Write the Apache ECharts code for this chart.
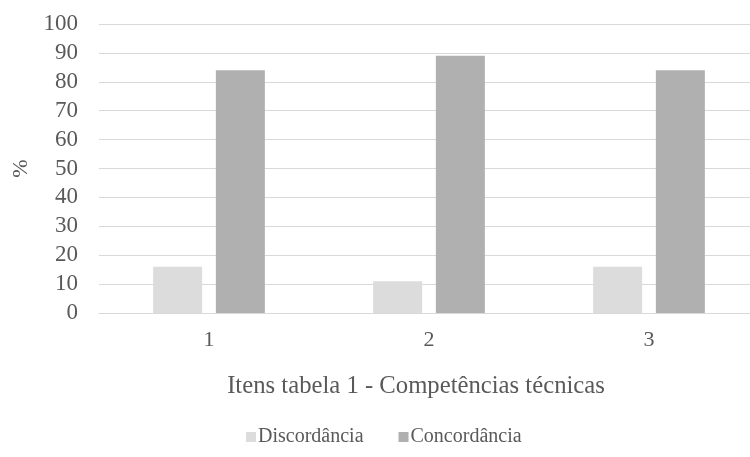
<!DOCTYPE html>
<html>
<head>
<meta charset="utf-8">
<script src="https://cdn.jsdelivr.net/npm/echarts@6/dist/echarts.min.js"></script>
<style>
  html, body { margin: 0; padding: 0; background: #ffffff; }
  #chart { width: 750px; height: 457px; }
</style>
</head>
<body>
<div id="chart"></div>
<script>
// Itens da tabela 1 (competências técnicas)
const categories = ['1', '2', '3'];
const discordancia = [16, 11, 16];
const concordancia = [84, 89, 84];
const yTicks = { min: 0, max: 100, interval: 10 };

const FONT = '"Liberation Serif", "Times New Roman", serif';
const TEXT = '#595959';

const chart = echarts.init(document.getElementById('chart'), null, { renderer: 'canvas' });
chart.setOption({
  backgroundColor: '#ffffff',
  animation: false,
  textStyle: { fontFamily: FONT, color: TEXT },
  title: {
    text: 'Itens tabela 1 - Competências técnicas',
    left: 411, top: 369, textAlign: 'center',
    textStyle: { fontFamily: FONT, fontSize: 24.7, fontWeight: 'normal', color: TEXT }
  },
  legend: {
    bottom: 5, left: 241,
    itemWidth: 10, itemHeight: 10, itemGap: 35,
    icon: 'rect',
    textStyle: { fontFamily: FONT, fontSize: 20, color: TEXT, padding: [0, 0, 0, -3] },
    data: ['Discordância', 'Concordância']
  },
  grid: { left: 99, top: 24, right: -9, bottom: 144, containLabel: false, outerBoundsMode: 'none' },
  xAxis: {
    type: 'category',
    data: categories,
    axisLine: { lineStyle: { color: '#d9d9d9', width: 1 } },
    axisTick: { show: false },
    axisLabel: { fontFamily: FONT, fontSize: 22, color: TEXT, margin: 16 }
  },
  yAxis: {
    type: 'value',
    min: yTicks.min, max: yTicks.max, interval: yTicks.interval,
    name: '%',
    nameLocation: 'middle',
    nameGap: 66,
    nameRotate: 90,
    nameTextStyle: { fontFamily: FONT, fontSize: 22, color: TEXT },
    axisLine: { show: false },
    axisTick: { show: false },
    splitLine: { lineStyle: { color: '#d9d9d9', width: 1 } },
    axisLabel: { fontFamily: FONT, fontSize: 23, color: TEXT, margin: 21 }
  },
  series: [
    {
      name: 'Discordância', type: 'bar', data: discordancia,
      barWidth: 49, barGap: '28%',
      itemStyle: { color: '#dcdcdc' }
    },
    {
      name: 'Concordância', type: 'bar', data: concordancia,
      barWidth: 49, barGap: '28%',
      itemStyle: { color: '#b0b0b0' }
    }
  ]
});
</script>
</body>
</html>
